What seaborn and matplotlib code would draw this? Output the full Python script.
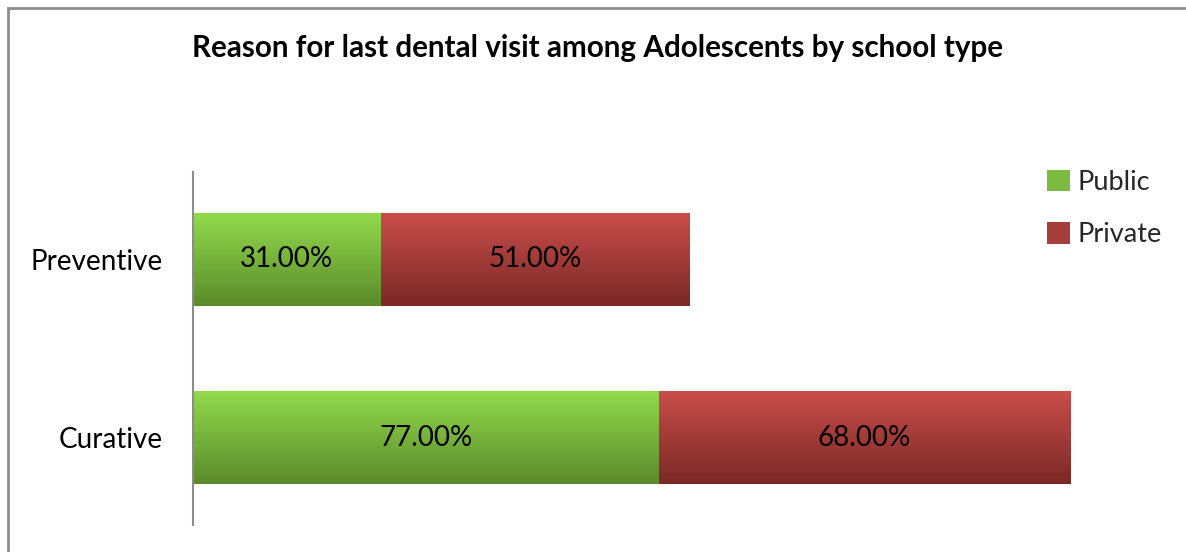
import numpy as np
import pandas as pd
import matplotlib
matplotlib.use("Agg")
import matplotlib.pyplot as plt
import seaborn as sns
from matplotlib.colors import LinearSegmentedColormap
from matplotlib.patches import Rectangle, Patch

categories = ["Preventive", "Curative"]
public = [31.0, 77.0]
private = [51.0, 68.0]
series_names = ["Public", "Private"]
title = "Reason for last dental visit among Adolescents by school type"

sns.set_theme(style="white")
plt.rcParams["font.family"] = ["Lato", "DejaVu Sans"]

W, H = 1186, 552
fig = plt.figure(figsize=(W / 100, H / 100), dpi=100)
ax = fig.add_axes([193 / W, 1 - 525 / H, (1161 - 193) / W, (525 - 172) / H])

df = pd.DataFrame({"category": categories, "public": public, "private": private})
df["total"] = df["public"] + df["private"]

sns.barplot(data=df, y="category", x="total", order=categories, color="#C0504D",
            width=0.52, ax=ax, saturation=1, orient="h")
n_tot = len(ax.patches)
sns.barplot(data=df, y="category", x="public", order=categories, color="#92D050",
            width=0.52, ax=ax, saturation=1, orient="h")

ax.set_xlim(0, 160)
ax.set_ylim(1.49, -0.49)

green = LinearSegmentedColormap.from_list("g", ["#5B8A2B", "#92DA4C"])
red = LinearSegmentedColormap.from_list("r", ["#7A2826", "#C94E4B"])
grad = np.linspace(0, 1, 256).reshape(-1, 1)

for i, p in enumerate(ax.patches):
    cmap = red if i < n_tot else green
    x0, y0 = p.get_x(), p.get_y()
    w, h = p.get_width(), p.get_height()
    im = ax.imshow(grad, cmap=cmap, aspect="auto",
                   extent=[x0, x0 + w, y0, y0 + h], origin="upper",
                   zorder=p.get_zorder() + (0.5 if i >= n_tot else 0.2))
    im.set_clip_path(p)
    p.set_edgecolor("none")

ax.set_xlim(0, 160)
ax.set_ylim(1.49, -0.49)

for i in range(len(categories)):
    ax.text(public[i] / 2, i, f"{public[i]:.2f}%", ha="center", va="center",
            fontsize=20, color="black", zorder=10)
    ax.text(public[i] + private[i] / 2, i, f"{private[i]:.2f}%", ha="center", va="center",
            fontsize=20, color="black", zorder=10)

ax.set_xlabel("")
ax.set_ylabel("")
ax.set_xticks([])
ax.tick_params(axis="y", length=0, labelsize=20, pad=22, colors="black")
for s in ["top", "right", "bottom"]:
    ax.spines[s].set_visible(False)
ax.spines["left"].set_color("#8C8C8C")
ax.spines["left"].set_linewidth(1.5)

fig.text(598 / W, 1 - 48 / H, title, ha="center", va="center",
         fontsize=21.3, fontweight="bold", color="black")

# legend
handles = [Patch(facecolor="#7CBA40", edgecolor="none"),
           Patch(facecolor="#A83E3B", edgecolor="none")]
fig.legend(handles, series_names, loc="upper left",
           bbox_to_anchor=(1036 / W, 1 - 159 / H), frameon=False,
           fontsize=19.5, handlelength=0.85, handleheight=0.85,
           labelspacing=1.0, handletextpad=0.3, borderaxespad=0)

# chart border
border = Rectangle((7.5 / W, -0.1), 1.2, 1 - 7.5 / H + 0.1, transform=fig.transFigure,
                   fill=False, edgecolor="#8C8C8C", linewidth=2)
fig.add_artist(border)

fig.savefig("out.png", dpi=100)
